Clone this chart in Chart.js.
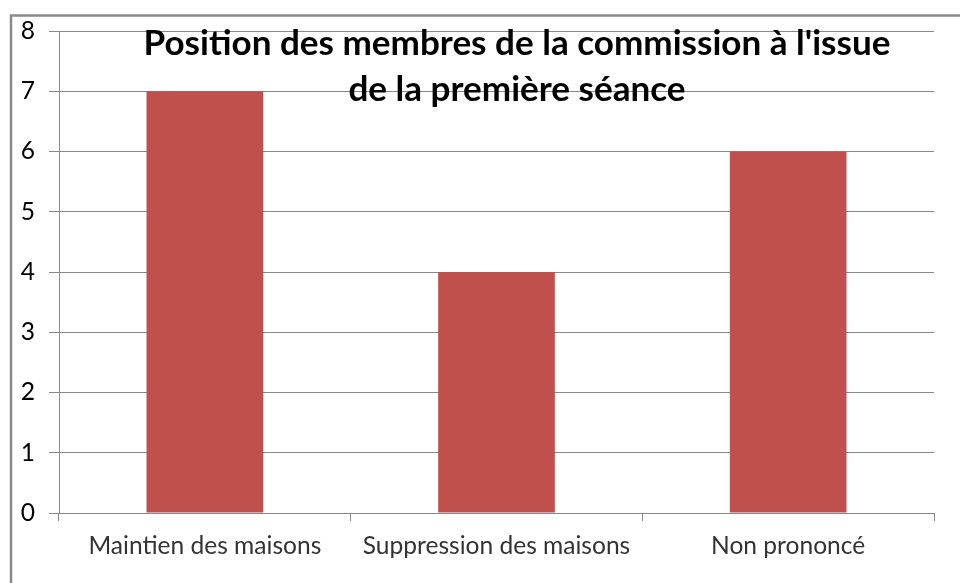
<!DOCTYPE html>
<html>
<head>
<meta charset="utf-8">
<script src="https://cdn.jsdelivr.net/npm/chart.js@4.4.1/dist/chart.umd.min.js"></script>
<style>
  html, body { margin: 0; padding: 0; background: #ffffff; }
  #wrap { position: relative; width: 960px; height: 583px; }
</style>
</head>
<body>
<div id="wrap"><canvas id="c" width="960" height="583"></canvas></div>
<script>
const categories = ["Maintien des maisons", "Suppression des maisons", "Non prononcé"];
const values = [7, 4, 6];
const yTicks = [0, 1, 2, 3, 4, 5, 6, 7, 8];
const titleLines = ["Position des membres de la commission à l'issue", "de la première séance"];

const FONT = "Lato, 'Open Sans', sans-serif";

function fitSize(text, targetWidth, weight) {
  const cv = document.createElement('canvas').getContext('2d');
  cv.font = weight + " 100px " + FONT;
  const w = cv.measureText(text).width;
  return 100 * targetWidth / w;
}
const labelSize = fitSize("Maintien des maisons", 233, "normal");
const titleSize = fitSize(titleLines[0], 747, "bold");

const frameAndTitle = {
  id: 'frameAndTitle',
  afterDraw(chart) {
    const ctx = chart.ctx;
    ctx.save();
    ctx.strokeStyle = '#8a8a8a';
    ctx.lineWidth = 2.5;
    ctx.strokeRect(11, 15.5, 1000, 700);
    ctx.fillStyle = '#000000';
    ctx.font = "bold " + titleSize.toFixed(2) + "px " + FONT;
    ctx.textAlign = 'center';
    ctx.textBaseline = 'alphabetic';
    ctx.fillText(titleLines[0], 517, 55);
    ctx.fillText(titleLines[1], 517, 101);
    ctx.restore();
  }
};

new Chart(document.getElementById('c'), {
  type: 'bar',
  data: {
    labels: categories,
    datasets: [{
      data: values,
      backgroundColor: '#C0504D',
      borderWidth: 0,
      barPercentage: 0.4,
      categoryPercentage: 1.0
    }]
  },
  options: {
    responsive: false,
    animation: false,
    devicePixelRatio: 1,
    layout: { padding: { left: 0, right: 26, top: 31, bottom: 0 } },
    plugins: { legend: { display: false }, title: { display: false }, tooltip: { enabled: false } },
    scales: {
      x: {
        offset: true,
        grid: { offset: true, drawOnChartArea: false, drawTicks: true, tickLength: 8, color: '#888888', lineWidth: 1 },
        border: { display: true, color: '#888888', width: 1 },
        ticks: { color: '#333333', font: { family: FONT, size: labelSize }, padding: 10, maxRotation: 0, autoSkip: false },
        afterFit(scale) { scale.height = 70; }
      },
      y: {
        min: 0, max: 8,
        afterBuildTicks(scale) { scale.ticks = yTicks.map(v => ({ value: v })); },
        grid: { color: '#888888', lineWidth: 1, drawTicks: true, tickLength: 10 },
        border: { display: true, color: '#888888', width: 1 },
        ticks: { color: '#000000', font: { family: FONT, size: labelSize }, padding: 14 },
        afterFit(scale) { scale.width = 59; }
      }
    }
  },
  plugins: [frameAndTitle]
});
</script>
</body>
</html>
